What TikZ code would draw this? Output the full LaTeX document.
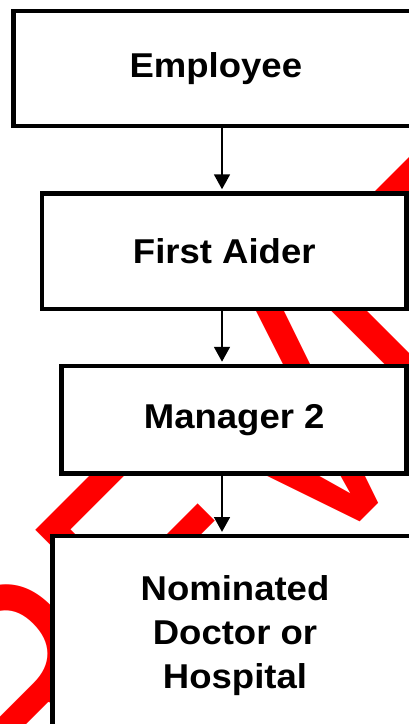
\documentclass[tikz,border=0pt]{standalone}
\usepackage{fontspec}
\setmainfont{Liberation Sans}[FakeStretch=1.06]
\newfontfamily\markfont{Liberation Sans}[FakeStretch=0.837]
\usetikzlibrary{arrows.meta}
\tikzstyle{stage} = [draw=black,line width=3.2pt,fill=white,inner sep=0pt,align=center,font=\bfseries\fontsize{24.5}{31.4}\selectfont]
\tikzstyle{arrow} = [line width=1pt,-{Triangle[width=0.4cm,length=0.37cm]},shorten >=1.5pt]
\tikzstyle{watermark} = [red,inner sep=0pt,anchor=base west,rotate=45,font=\markfont\fontsize{230.3}{230.3}\selectfont]

\begin{document}
\begin{tikzpicture}

\useasboundingbox (0,0) rectangle (10.225,-18.1);
\fill[white] (0,0) rectangle (10.225,-18.1);
\clip (0,0) rectangle (10.225,-18.1);

% faded stamp behind the chart
\node[watermark] (wm) at (0.976,-21.061) {REVIEW};

\node[stage,minimum width=10.11cm,minimum height=2.875cm] (emp) at (5.396,-1.708) {Employee};
\node[stage,minimum width=9.11cm,minimum height=2.89cm] (aid) at (5.607,-6.284) {First Aider};
\node[stage,minimum width=8.625cm,minimum height=2.69cm] (mgr) at (5.855,-10.496) {Manager 2};
\node[stage,minimum width=9.125cm,minimum height=4.975cm] (doc) at (5.875,-15.893) {Nominated\\Doctor or\\Hospital};

\coordinate (spine) at (5.55,0);
\draw[arrow] (emp.south -| spine) -- (aid.north -| spine);
\draw[arrow] (aid.south -| spine) -- (mgr.north -| spine);
\draw[arrow] (mgr.south -| spine) -- (doc.north -| spine);
\end{tikzpicture}
\end{document}
